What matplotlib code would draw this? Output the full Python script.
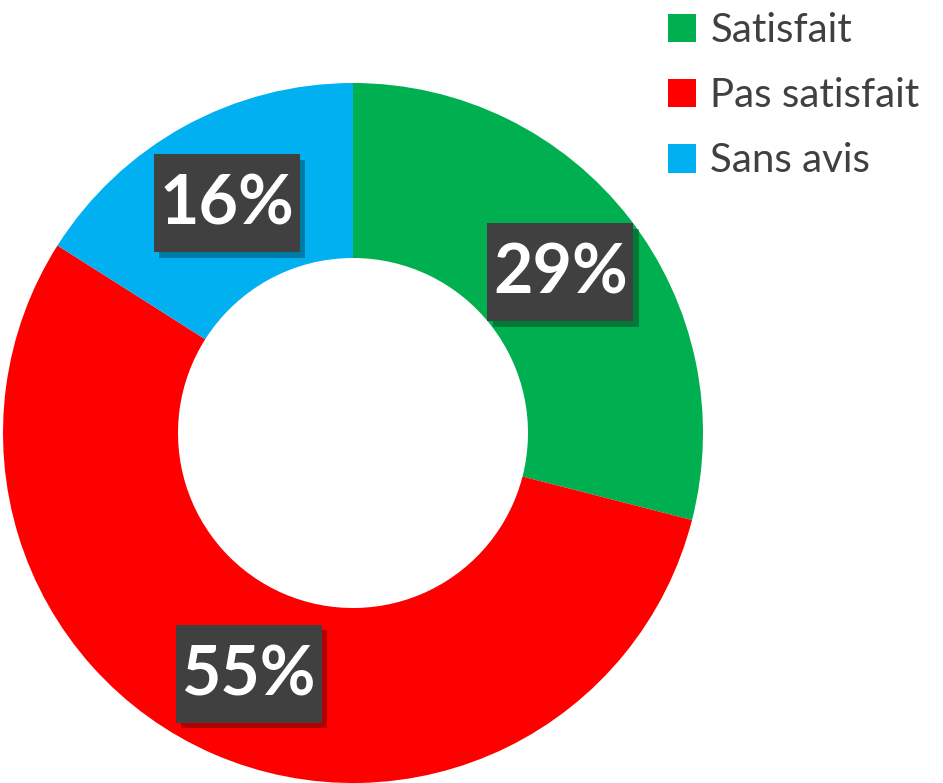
import matplotlib
matplotlib.use("Agg")
import matplotlib.pyplot as plt
from matplotlib.patches import Patch, Rectangle
import matplotlib.patheffects as pe
import numpy as np

categories = ["Satisfait", "Pas satisfait", "Sans avis"]
values = [29, 55, 16]
labels = ["29%", "55%", "16%"]
colors = ["#00B050", "#FF0000", "#00B0F0"]

plt.rcParams['font.family'] = ['Lato', 'DejaVu Sans']

W, H = 943, 783
R_PX = 350.0
fig = plt.figure(figsize=(W / 100, H / 100), dpi=100)
ax = fig.add_axes([3 / W, 0 / H, 2 * R_PX / W, 2 * R_PX / H])
wedges, _ = ax.pie(values, colors=colors, startangle=90, counterclock=False,
                   radius=1.0, wedgeprops=dict(width=0.5, linewidth=0))
ax.set_xlim(-1, 1)
ax.set_ylim(-1, 1)
ax.set_aspect('equal')

bw, bh = 146 / R_PX, 98 / R_PX
for w, lab in zip(wedges, labels):
    ang = np.deg2rad((w.theta1 + w.theta2) / 2)
    x, y = 0.75 * np.cos(ang), 0.75 * np.sin(ang)
    rect = Rectangle((x - bw / 2, y - bh / 2), bw, bh, facecolor='#404040',
                     edgecolor='none', zorder=5)
    rect.set_path_effects([
        pe.SimplePatchShadow(offset=(4, -4), shadow_rgbFace='#000000', alpha=0.3),
        pe.Normal()])
    ax.add_patch(rect)
    ax.text(x, y - 0.005, lab, ha='center', va='center', fontsize=49, fontweight='bold',
            color='white', zorder=6)

handles = [Patch(facecolor=c, edgecolor='none') for c in colors]
leg = fig.legend(handles, categories, loc='upper left', bbox_to_anchor=(652 / W, 1 - (-4) / H),
                 frameon=False, fontsize=29, handlelength=0.7, handleheight=0.7,
                 handletextpad=0.35, labelspacing=0.7, borderaxespad=0)
for txt in leg.get_texts():
    txt.set_color('#404040')

fig.savefig('out.png', dpi=100)
